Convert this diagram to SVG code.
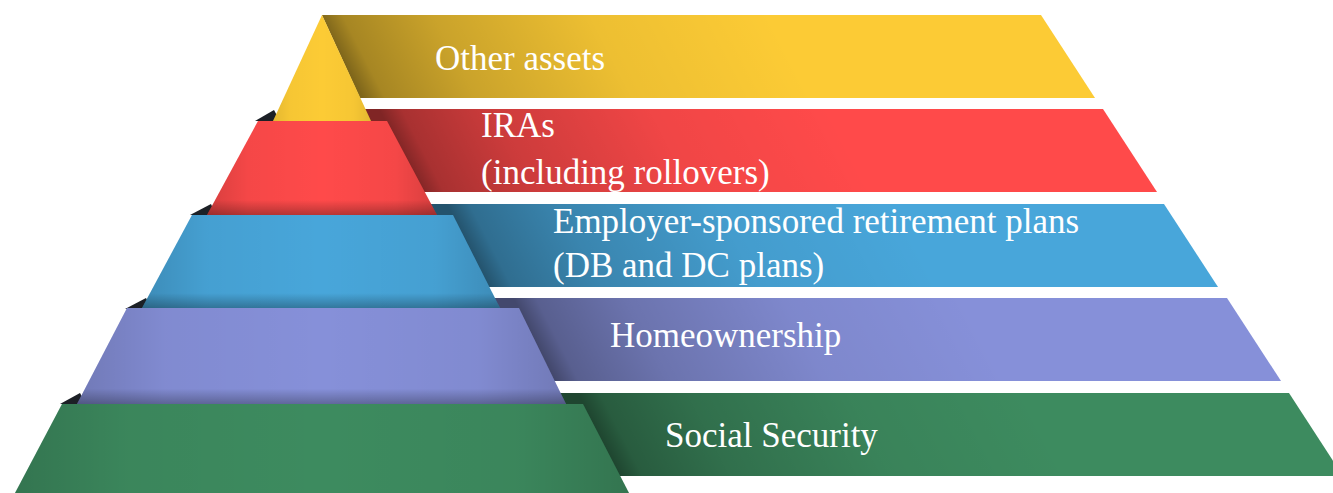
<svg xmlns="http://www.w3.org/2000/svg" width="1333" height="493" viewBox="0 0 1333 493">
  <style>
    .lbl { font-family: "Liberation Serif", "DejaVu Serif", serif; font-size: 35px; fill: #ffffff; }
    .wedge { fill: #1c2026; }
    .side { fill: url(#sideShade); }
    .bottom { fill: url(#bottomShade); }
  </style>
  <defs>
    <linearGradient id="shadeBase" gradientUnits="userSpaceOnUse">
      <stop offset="0" stop-color="#000" stop-opacity="0.5"/>
      <stop offset="0.05" stop-color="#000" stop-opacity="0.34"/>
      <stop offset="0.25" stop-color="#000" stop-opacity="0.2"/>
      <stop offset="0.6" stop-color="#000" stop-opacity="0.06"/>
      <stop offset="1" stop-color="#000" stop-opacity="0"/>
    </linearGradient>
    <linearGradient id="shY" href="#shadeBase" x1="341" y1="56" x2="697" y2="-128"/>
    <linearGradient id="shR" href="#shadeBase" x1="400" y1="150" x2="756" y2="-34"/>
    <linearGradient id="shB" href="#shadeBase" x1="468" y1="245" x2="824" y2="61"/>
    <linearGradient id="shP" href="#shadeBase" x1="535" y1="340" x2="891" y2="156"/>
    <linearGradient id="shG" href="#shadeBase" x1="599" y1="435" x2="955" y2="251"/>
    <linearGradient id="sideShade" x1="0" y1="0" x2="1" y2="0">
      <stop offset="0" stop-color="#000" stop-opacity="0.16"/>
      <stop offset="0.18" stop-color="#000" stop-opacity="0.04"/>
      <stop offset="0.5" stop-color="#000" stop-opacity="0"/>
      <stop offset="0.82" stop-color="#000" stop-opacity="0.04"/>
      <stop offset="1" stop-color="#000" stop-opacity="0.16"/>
    </linearGradient>
    <linearGradient id="bottomShade" x1="0" y1="0" x2="0" y2="1">
      <stop offset="0" stop-color="#000" stop-opacity="0"/>
      <stop offset="0.84" stop-color="#000" stop-opacity="0"/>
      <stop offset="1" stop-color="#000" stop-opacity="0.28"/>
    </linearGradient>
  </defs>
  <rect width="1333" height="493" fill="#ffffff"/>

  <g id="social-security">
    <polygon points="320,393 1289,393 1343,476 320,476" fill="#3d8b5f"/>
    <polygon points="320,393 1289,393 1343,476 320,476" fill="url(#shG)"/>
    <polygon class="wedge" points="60,404 80,393 86,404"/>
    <polygon points="62,404 583,404 629,493 15,493" fill="#3d8b5f"/>
    <polygon class="side" points="62,404 583,404 629,493 15,493"/>
    <text class="lbl" x="665" y="447">Social Security</text>
  </g>

  <g id="homeownership">
    <polygon points="320,298 1227,298 1281,381 320,381" fill="#8690d9"/>
    <polygon points="320,298 1227,298 1281,381 320,381" fill="url(#shP)"/>
    <polygon class="wedge" points="125,309 146,298 152,309"/>
    <polygon points="127,308 519,308 566,404 77,404" fill="#8690d9"/>
    <polygon class="side" points="127,308 519,308 566,404 77,404"/>
    <polygon class="bottom" points="127,308 519,308 566,404 77,404"/>
    <text class="lbl" x="610" y="347">Homeownership</text>
  </g>

  <g id="employer-plans">
    <polygon points="320,204 1164,204 1218,287 320,287" fill="#48a6da"/>
    <polygon points="320,204 1164,204 1218,287 320,287" fill="url(#shB)"/>
    <polygon class="wedge" points="190,215 211,204 216,215"/>
    <polygon points="192,215 453,215 500,308 142,308" fill="#48a6da"/>
    <polygon class="side" points="192,215 453,215 500,308 142,308"/>
    <polygon class="bottom" points="192,215 453,215 500,308 142,308"/>
    <text class="lbl" x="553" y="233">Employer-sponsored retirement plans</text>
    <text class="lbl" x="553" y="277">(DB and DC plans)</text>
  </g>

  <g id="iras">
    <polygon points="330,109 1103,109 1157,192 330,192" fill="#ff4a4a"/>
    <polygon points="330,109 1103,109 1157,192 330,192" fill="url(#shR)"/>
    <polygon class="wedge" points="255,121 274,110 280,121"/>
    <polygon points="258,121 387,121 437,215 207,215" fill="#ff4a4a"/>
    <polygon class="side" points="258,121 387,121 437,215 207,215"/>
    <polygon class="bottom" points="258,121 387,121 437,215 207,215"/>
    <text class="lbl" x="481" y="137">IRAs</text>
    <text class="lbl" x="481" y="184">(including rollovers)</text>
  </g>

  <g id="other-assets">
    <polygon points="322,15 1041,15 1095,98 360,98" fill="#fccb35"/>
    <polygon points="322,15 1041,15 1095,98 360,98" fill="url(#shY)"/>
    <polygon points="322,15 371,121 273,121" fill="#fccb35"/>
    <polygon class="side" points="322,15 371,121 273,121" opacity="0.6"/>
    <text class="lbl" x="435" y="70">Other assets</text>
  </g>
</svg>
